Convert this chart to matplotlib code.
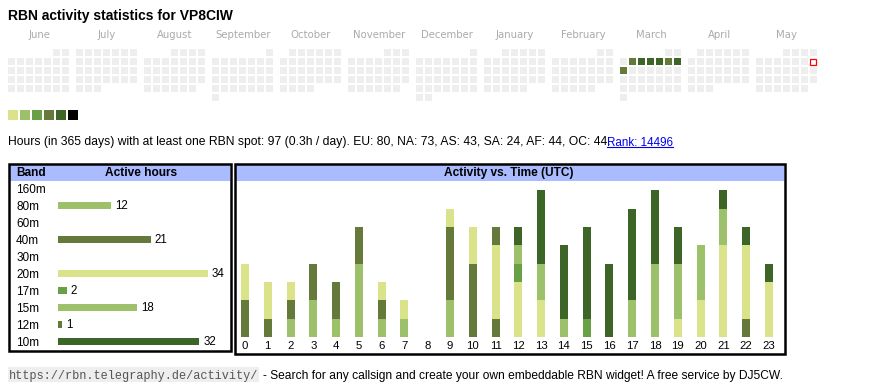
import calendar
import datetime as dt
import matplotlib
matplotlib.use('Agg')
import matplotlib.pyplot as plt
import matplotlib.transforms as mtransforms
from matplotlib.patches import Rectangle

W, H = 870, 390

# ---- data ----
title = 'RBN activity statistics for VP8CIW'
months = ['June', 'July', 'August', 'September', 'October', 'November',
          'December', 'January', 'February', 'March', 'April', 'May']
start_year, start_month = 2024, 6
today = dt.date(2025, 5, 11)
active_days = [dt.date(2025, 3, d) for d in (4, 5, 6, 7, 8, 9, 10)]
active_levels = [3, 4, 4, 4, 3, 4, 3]
level_colors = ['#dae28a', '#9dc16b', '#68a045', '#657a3a', '#3c6527', '#000000']

info = ('Hours (in 365 days) with at least one RBN spot: 97 (0.3h / day). '
        'EU: 80, NA: 73, AS: 43, SA: 24, AF: 44, OC: 44.')
rank = 'Rank: 14496'
url = 'https://rbn.telegraphy.de/activity/'
footer = '- Search for any callsign and create your own embeddable RBN widget! A free service by DJ5CW.'

bands = ['160m', '80m', '60m', '40m', '30m', '20m', '17m', '15m', '12m', '10m']
band_hours = [0, 12, 0, 21, 0, 34, 2, 18, 1, 32]
band_colors = ['#000000', '#9dc16b', '#68a045', '#657a3a', '#3c6527',
               '#dae28a', '#68a045', '#9dc16b', '#657a3a', '#3c6527']

hours = list(range(24))
#            0  1  2  3  4  5  6  7  8  9 10 11 12 13 14 15 16 17 18 19 20 21 22 23
hrs_160m = [0] * 24
hrs_80m = [0, 0, 1, 2, 1, 4, 1, 1, 0, 2, 0, 0, 0, 0, 0, 0, 0, 0, 0, 0, 0, 0, 0, 0]
hrs_60m = [0] * 24
hrs_40m = [2, 1, 1, 2, 2, 2, 1, 0, 0, 4, 4, 1, 0, 0, 0, 0, 0, 0, 0, 0, 0, 0, 1, 0]
hrs_30m = [0] * 24
hrs_20m = [2, 2, 1, 0, 0, 0, 1, 1, 0, 1, 2, 4, 3, 2, 0, 0, 0, 0, 0, 1, 2, 5, 4, 3]
hrs_17m = [0, 0, 0, 0, 0, 0, 0, 0, 0, 0, 0, 0, 1, 0, 0, 1, 0, 0, 0, 0, 0, 0, 0, 0]
hrs_15m = [0, 0, 0, 0, 0, 0, 0, 0, 0, 0, 0, 0, 1, 2, 1, 0, 0, 2, 4, 3, 3, 2, 0, 0]
hrs_12m = [0, 0, 0, 0, 0, 0, 0, 0, 0, 0, 0, 1, 0, 0, 0, 0, 0, 0, 0, 0, 0, 0, 0, 0]
hrs_10m = [0, 0, 0, 0, 0, 0, 0, 0, 0, 0, 0, 0, 1, 4, 4, 5, 4, 5, 4, 2, 0, 1, 1, 1]
hourly = [hrs_160m, hrs_80m, hrs_60m, hrs_40m, hrs_30m,
          hrs_20m, hrs_17m, hrs_15m, hrs_12m, hrs_10m]

SANS = 'Liberation Sans'
HEAD_BG = '#aabbff'

fig = plt.figure(figsize=(W / 100, H / 100), dpi=100)
# figure pixel coordinates, origin top left
px = mtransforms.Affine2D().scale(1 / W, -1 / H).translate(0, 1) + fig.transFigure
fig.canvas.draw()
r = fig.canvas.get_renderer()


def px_axes(x0, y0, w, h):
	return fig.add_axes([x0 / W, 1 - (y0 + h) / H, w / W, h / H])


def fit_text(x0, x1, y, s, **kw):
	"""Put text with its left edge at x0 and scale its size so it ends at x1."""
	t = fig.text(x0, y, s, transform=px, va='baseline', ha='left', **kw)
	for _ in range(3):
		w = t.get_window_extent(r).width
		t.set_fontsize(t.get_fontsize() * (x1 - x0) / w)
	return t


fit_text(8, 233, 20, title, fontsize=10, fontweight='bold', family=SANS)

# ---- calendar heatmap ----
cal = px_axes(8, 28, 820, 96)
cal.set_xlim(0, 820)
cal.set_ylim(96, 0)
cal.axis('off')
level_of = dict(zip(active_days, active_levels))
for m, name in enumerate(months):
	year = start_year + (start_month - 1 + m) // 12
	month = (start_month - 1 + m) % 12 + 1
	first_wd, ndays = calendar.monthrange(year, month)
	x0 = m * 68
	cal.text(x0 + 31, 7, name, ha='center', va='center', fontsize=7.3,
	         color='#aaaaaa', family='DejaVu Sans')
	for d in range(1, ndays + 1):
		day = dt.date(year, month, d)
		col = (first_wd + d - 1) % 7
		row = (first_wd + d - 1) // 7
		x, y = x0 + col * 9, 21 + row * 9
		if day == today:
			cal.add_patch(Rectangle((x + 0.5, y + 0.5), 6, 6, fc='white', ec='red', lw=0.9))
		elif day in level_of:
			cal.add_patch(Rectangle((x, y), 7, 7, fc=level_colors[level_of[day]], lw=0))
		else:
			cal.add_patch(Rectangle((x, y), 7, 7, fc='#eeeeee', lw=0))
for i, c in enumerate(level_colors):
	cal.add_patch(Rectangle((i * 12, 82), 10, 10, fc=c, lw=0))

# ---- info line ----
fit_text(8, 603, 145.5, info, fontsize=8.6, family=SANS)
fit_text(607, 673, 145.5, rank, fontsize=8.6, family=SANS, color='#0000ee')
fig.add_artist(plt.Line2D([607, 673], [147, 147], transform=px,
                          color='#0000ee', lw=0.8))

# ---- band box ----
fig.add_artist(Rectangle((10, 165), 220, 16, transform=px, fc=HEAD_BG, lw=0))
fig.add_artist(Rectangle((9, 164), 222, 187, transform=px, fill=False, ec='black', lw=1.8))
fig.text(16, 173, 'Band', transform=px, fontsize=8.6, fontweight='bold',
         family=SANS, va='center', ha='left')
fig.text(141, 173, 'Active hours', transform=px, fontsize=8.6, fontweight='bold',
         family=SANS, va='center', ha='center')

bax = px_axes(58, 181, 170, 170)
ypos = range(len(bands))
bax.barh(ypos, band_hours, height=7 / 17, color=band_colors, linewidth=0)
bax.set_xlim(0, 170 / 4.41)
bax.set_ylim(len(bands) - 0.47, -0.47)
bax.set_yticks(list(ypos), bands)
bax.tick_params(axis='y', length=0, pad=30.2, labelsize=8.5)
for lbl in bax.get_yticklabels():
	lbl.set_ha('left')
	lbl.set_family(SANS)
bax.set_xticks([])
for s in bax.spines.values():
	s.set_visible(False)
for i, v in enumerate(band_hours):
	if v:
		bax.annotate(str(v), xy=(v, i), xytext=(4, 0), textcoords='offset pixels',
		             va='center', ha='left', fontsize=8.3, family=SANS)

# ---- activity vs time box ----
fig.add_artist(Rectangle((236, 165), 548, 16, transform=px, fc=HEAD_BG, lw=0))
fig.add_artist(Rectangle((235, 164), 550, 190, transform=px, fill=False, ec='black', lw=1.8))
fig.text(509, 173, 'Activity vs. Time (UTC)', transform=px, fontsize=8.6,
         fontweight='bold', family=SANS, va='center', ha='center')

aax = px_axes(236, 182, 546, 155)
unit = 18.33
bottom = [0] * 24
for vals, c in zip(hourly, band_colors):
	if any(vals):
		aax.bar(hours, vals, bottom=bottom, width=8 / 22.78, color=c, linewidth=0)
		bottom = [b + v for b, v in zip(bottom, vals)]
left = -(245 - 236) / 22.78
aax.set_xlim(left, left + 546 / 22.78)
aax.set_ylim(0, 155 / unit)
aax.set_xticks(hours, [str(h) for h in hours])
aax.tick_params(axis='x', length=0, pad=3, labelsize=8.2)
for lbl in aax.get_xticklabels():
	lbl.set_family(SANS)
aax.set_yticks([])
for s in aax.spines.values():
	s.set_visible(False)

# ---- footer ----
fig.add_artist(Rectangle((8, 367), 251, 15, transform=px, fc='#eeeeee', lw=0))
fit_text(9, 258, 378.5, url, fontsize=8.6, family='Liberation Mono', color='#555555')
fit_text(263, 784, 378.5, footer, fontsize=8.6, family=SANS)

fig.savefig('out.png', dpi=100)
